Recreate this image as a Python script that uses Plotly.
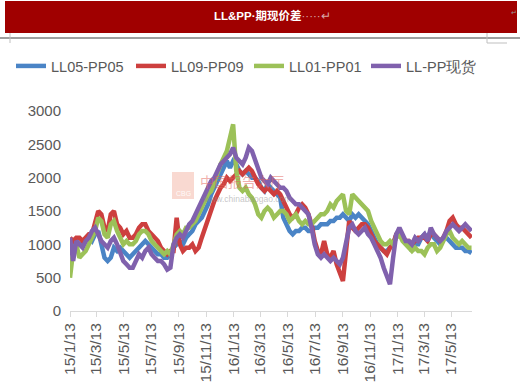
import pandas as pd
import plotly.graph_objects as go

# ---------------- data (weekly readings, from 2015-01-13) ----------------
START_DATE = "2015-01-13"

LL05_PP05 = [
    1050, 1000, 1050,                     # 2015-01
    1000, 1000, 1050, 1100,               # 02
    1050, 1150, 1200, 1000, 800,          # 03
    750, 800, 950, 900,                   # 04
    950, 900, 850, 800,                   # 05
    850, 900, 950, 1000, 1050,            # 06
    1000, 950, 900, 850,                  # 07
    850, 800, 800, 850,                   # 08
    950, 1000, 1050, 1000, 1100,          # 09
    1150, 1200, 1300, 1350,               # 10
    1400, 1500, 1600, 1750,               # 11
    1850, 1950, 2050, 2150, 2250,         # 12
    2150, 2250, 2200, 2100,               # 2016-01
    2050, 2100, 2050, 2000,               # 02
    2000, 1950, 1850, 1800, 1900,         # 03
    1850, 1800, 1750, 1700,               # 04
    1400, 1300, 1200, 1150, 1200,         # 05
    1200, 1250, 1250, 1200,               # 06
    1200, 1250, 1250, 1300,               # 07
    1300, 1300, 1350, 1350, 1400,         # 08
    1400, 1450, 1400, 1350,               # 09
    1450, 1400, 1450, 1400,               # 10
    1350, 1300, 1200, 1100, 1000,         # 11
    950, 900, 900, 950,                   # 12
    1000, 1150, 1200, 1100, 1050,         # 2017-01
    1000, 900, 1000, 1000,                # 02
    1100, 1150, 1100, 1200,               # 03
    1100, 1050, 1000, 1100,               # 04
    1100, 1050, 1000, 950, 950,           # 05
    950, 900, 900, 870,                   # 06
]

LL09_PP09 = [
    1100, 1050, 1100,
    1100, 1050, 1100, 1150,
    1150, 1300, 1500, 1450, 1250,
    1200, 1450, 1500, 1300,
    1250, 1150, 1200, 1100,
    1100, 1150, 1250, 1300, 1300,
    1200, 1150, 1100, 1050,
    950, 900, 850, 900,
    900, 1400, 1000, 900, 950,
    950, 1000, 900, 950,
    1100, 1250, 1350, 1500,
    1650, 1750, 1850, 1900, 2000,
    1950, 2000, 2050, 2100,
    2050, 2100, 2150, 2100,
    2000, 1900, 1850, 1800, 1850,
    1800, 1750, 1800, 1750,
    1650, 1550, 1450, 1400, 1450,
    1550, 1600, 1550, 1450,
    1300, 1050, 900, 850,
    1050, 850, 800, 900, 700,
    550, 450, 900, 1350,
    1250, 1200, 1250, 1300,
    1300, 1250, 1150, 1050, 1000,
    950, 900, 850, 950,
    1000, 1150, 1200, 1100, 1050,
    1050, 1000, 1050, 1100,
    1100, 1100, 1050, 1150,
    1150, 1100, 1050, 1100,
    1200, 1350, 1400, 1300, 1250,
    1250, 1200, 1150, 1100,
]

LL01_PP01 = [
    500, 900, 1000,
    800, 850, 900, 1000,
    1100, 1200, 1400, 1350, 1150,
    1100, 1300, 1350, 1200,
    1100, 1000, 1050, 1000,
    1000, 1050, 1150, 1200, 1200,
    1150, 1050, 1000, 950,
    900, 850, 900, 850,
    1000, 1150, 1200, 1150, 1250,
    1250, 1300, 1350, 1450,
    1550, 1650, 1750, 1800,
    1950, 2050, 2200, 2300, 2400,
    2600, 2800, 2100, 1850,
    1800, 1850, 1750, 1700,
    1600, 1450, 1400, 1500, 1550,
    1500, 1400, 1450, 1500,
    1500, 1450, 1350, 1400, 1450,
    1350, 1300, 1350, 1300,
    1300, 1350, 1400, 1450,
    1450, 1500, 1600, 1550, 1650,
    1700, 1750, 1500, 1450,
    1750, 1700, 1650, 1600,
    1550, 1500, 1350, 1250, 1150,
    1050, 1000, 1000, 1050,
    1000, 1100, 1150, 1050, 1000,
    950, 900, 950, 900,
    900, 850, 950, 1000,
    1000, 900, 950, 1050,
    1150, 1200, 1100, 1050, 1000,
    1050, 1000, 950, 950,
]

LL_PP_SPOT = [
    1100, 750, 1050,
    1000, 950, 1050, 1100,
    1200, 1250, 1150, 1050, 1000,
    950, 1050, 1100, 1000,
    850, 750, 700, 650,
    650, 750, 850, 800, 900,
    950, 850, 800, 750,
    750, 700, 620, 650,
    1000, 1100, 1150, 1100, 1200,
    1300, 1350, 1450, 1550,
    1650, 1750, 1850, 1950,
    2000, 2100, 2200, 2250, 2300,
    2350, 2450, 2300, 2250,
    2200, 2300, 2450, 2400,
    2250, 2100, 2000, 1950, 1900,
    2000, 1950, 1900, 1850,
    1850, 1800, 1700, 1650, 1600,
    1600, 1550, 1500, 1450,
    1250, 1000, 850, 800,
    850, 800, 750, 800, 750,
    700, 800, 1050, 1250,
    1300, 1200, 1150, 1200,
    1250, 1150, 1100, 1000, 900,
    800, 650, 500, 400,
    800, 1150, 1250, 1150, 1050,
    1050, 1000, 1100, 1050,
    1100, 1150, 1050, 1250,
    1150, 1100, 1050, 1100,
    1200, 1250, 1300, 1250, 1200,
    1250, 1300, 1250, 1200,
]

SERIES_NAMES = ["LL05-PP05", "LL09-PP09", "LL01-PP01", "LL-PP现货"]
SERIES_VALUES = [LL05_PP05, LL09_PP09, LL01_PP01, LL_PP_SPOT]

TICK_DATES = ["2015-01-13", "2015-03-13", "2015-05-13", "2015-07-13", "2015-09-13",
              "2015-11-13", "2016-01-13", "2016-03-13", "2016-05-13", "2016-07-13",
              "2016-09-13", "2016-11-13", "2017-01-13", "2017-03-13", "2017-05-13"]
TICK_TEXT = ["15/1/13", "15/3/13", "15/5/13", "15/7/13", "15/9/13", "15/11/13",
             "16/1/13", "16/3/13", "16/5/13", "16/7/13", "16/9/13", "16/11/13",
             "17/1/13", "17/3/13", "17/5/13"]
Y_TICKS = [0, 500, 1000, 1500, 2000, 2500, 3000]

TITLE = "LL&PP·期现价差"

# ---------------- styling ----------------
COLORS = ["#4A84C6", "#CD3F3E", "#9CC158", "#8061AD"]
LEGEND_TEXT_X = [60, 180, 298, 415]      # pixel where each legend label starts
W, H = 520, 391
L, R, T, B = 70, 48, 111, 80
PW, PH = W - L - R, H - T - B


def px(xpix):
    return (xpix - L) / PW


def py(ypix):
    return (H - B - ypix) / PH


fig = go.Figure()
legend_ids = ["legend", "legend2", "legend3", "legend4"]
for name, vals, col, lid in zip(SERIES_NAMES, SERIES_VALUES, COLORS, legend_ids):
    dates = pd.date_range(START_DATE, periods=len(vals), freq="7D")
    fig.add_trace(go.Scatter(x=dates, y=vals, mode="lines", name=name, legend=lid,
                             line=dict(color=col, width=4.5)))

legend_layout = {}
for lid, tx in zip(legend_ids, LEGEND_TEXT_X):
    legend_layout[lid] = dict(
        orientation="h", xref="container", yref="container",
        x=(tx - 49) / W, y=1 - 66 / H, xanchor="left", yanchor="middle",
        font=dict(family="Liberation Sans", size=14.5, color="#595959"),
        bgcolor="rgba(0,0,0,0)", borderwidth=0)

shapes = [
    dict(type="rect", xref="paper", yref="paper", x0=px(5), x1=px(517), y0=py(33), y1=py(1),
         fillcolor="#A00000", line=dict(width=0), layer="below"),
    dict(type="line", xref="paper", yref="paper", x0=px(0), x1=px(520), y0=py(38), y1=py(38),
         line=dict(color="#7f7f7f", width=1.5)),
    dict(type="line", xref="paper", yref="paper", x0=px(10), x1=px(10), y0=py(33), y1=py(43),
         line=dict(color="#bfbfbf", width=1)),
    dict(type="line", xref="paper", yref="paper", x0=px(487), x1=px(487), y0=py(33), y1=py(43),
         line=dict(color="#bfbfbf", width=1)),
    dict(type="line", xref="paper", yref="paper", x0=px(487), x1=px(507), y0=py(43), y1=py(43),
         line=dict(color="#bfbfbf", width=1)),
    # faint watermark logo box
    dict(type="rect", xref="paper", yref="paper", x0=px(172), x1=px(194), y0=py(199), y1=py(172),
         fillcolor="rgba(240,160,140,0.4)", line=dict(width=0)),
]

annotations = [
    dict(xref="paper", yref="paper", x=px(272), y=py(16), xanchor="center", yanchor="middle",
         showarrow=False,
         text="<b>" + TITLE + "</b><span style='color:#d8a8a8'>·····↵</span>",
         font=dict(family="Liberation Sans, Noto Sans CJK SC", size=11.5, color="white")),
    dict(xref="paper", yref="paper", x=px(514), y=py(13), xanchor="center", yanchor="middle",
         showarrow=False, text="↵",
         font=dict(family="DejaVu Sans", size=7, color="#999999")),
    dict(xref="paper", yref="paper", x=px(183), y=py(193), xanchor="center", yanchor="middle",
         showarrow=False, text="CBG",
         font=dict(family="Liberation Sans", size=7, color="rgba(255,255,255,0.9)")),
    dict(xref="paper", yref="paper", x=px(198), y=py(181), xanchor="left", yanchor="middle",
         showarrow=False, text="中国报告大厅",
         font=dict(family="Noto Sans CJK SC", size=14, color="rgba(225,100,90,0.5)")),
    dict(xref="paper", yref="paper", x=px(201), y=py(199), xanchor="left", yanchor="middle",
         showarrow=False, text="www.chinabaogao.com",
         font=dict(family="Liberation Sans", size=8.5, color="rgba(140,140,140,0.5)")),
]

fig.update_layout(
    width=W, height=H,
    margin=dict(l=L, r=R, t=T, b=B, pad=0, autoexpand=False),
    paper_bgcolor="white", plot_bgcolor="white",
    font=dict(family="Liberation Sans", color="#595959"),
    showlegend=True,
    hovermode=False,
    shapes=shapes,
    annotations=annotations,
    xaxis=dict(type="date", range=["2015-01-13", "2017-06-28"],
               tickmode="array", tickvals=TICK_DATES, ticktext=TICK_TEXT,
               tickangle=-90, tickfont=dict(size=15.5, color="#595959"),
               showline=True, linecolor="#d9d9d9", linewidth=1,
               ticks="outside", ticklen=5, tickcolor="#d9d9d9",
               showgrid=False, zeroline=False, automargin=False),
    yaxis=dict(range=[0, 3000], tickmode="array", tickvals=Y_TICKS,
               tickfont=dict(size=15, color="#595959"),
               showgrid=False, zeroline=False, showline=False, ticks="",
               ticklabelstandoff=8, automargin=False),
    **legend_layout,
)

fig.write_html("out.html",
               config={"displayModeBar": False},
               post_script="document.body.style.margin='0';document.body.style.padding='0';")
